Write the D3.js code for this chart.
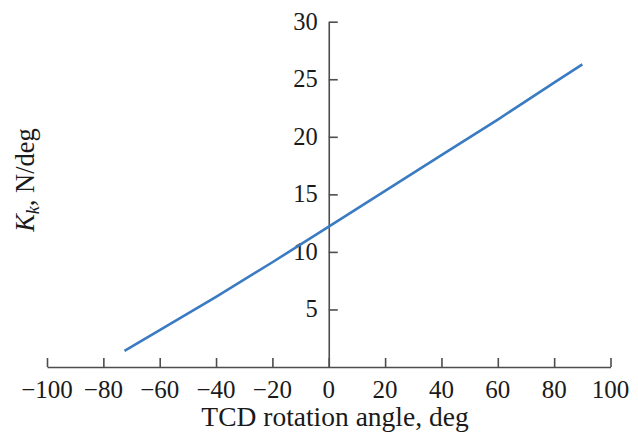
<!DOCTYPE html>
<html>
<head>
<meta charset="utf-8">
<script src="https://cdn.jsdelivr.net/npm/d3@7"></script>
<style>
  html, body { margin: 0; padding: 0; background: #fff; }
  svg { display: block; }
  text { font-family: "Liberation Serif", "Times New Roman", serif; fill: #1a1a1a; }
</style>
</head>
<body>
<svg id="chart" width="638" height="433"></svg>
<script>
// Stiffness K_k versus TCD rotation angle
const angle = [-72.5, -60, -40, -20, 0, 20, 40, 60, 80, 90];
const stiffness = [1.4, 3.2, 6.1, 9.1, 12.2, 15.3, 18.4, 21.5, 24.7, 26.3];
const xTicks = [-100, -80, -60, -40, -20, 0, 20, 40, 60, 80, 100];
const yTicks = [5, 10, 15, 20, 25, 30];

const svg = d3.select("#chart");
const x = d3.scaleLinear().domain([-100, 100]).range([47, 610.5]);
const y = d3.scaleLinear().domain([0, 30]).range([367, 21.7]);

const axisColor = "#4d4d4d";
const fmt = d => (d < 0 ? "\u2212" + Math.abs(d) : String(d));

// Horizontal axis at K = 0, ticks pointing up
const gx = svg.append("g")
  .attr("transform", `translate(0,${y(0)})`)
  .call(d3.axisTop(x).tickValues(xTicks).tickSize(9).tickSizeOuter(0).tickFormat(""));
gx.select(".domain").attr("stroke", axisColor).attr("stroke-width", 1.6);
gx.selectAll(".tick line").attr("stroke", axisColor).attr("stroke-width", 1.6);

svg.append("g").selectAll("text")
  .data(xTicks).join("text")
  .attr("x", d => x(d))
  .attr("y", y(0) + 31)
  .attr("text-anchor", "middle")
  .attr("font-size", 25)
  .text(fmt);

// Vertical axis at angle = 0, ticks pointing right, labels on the left
const gy = svg.append("g")
  .attr("transform", `translate(${x(0)},0)`)
  .call(d3.axisRight(y).tickValues(yTicks).tickSize(9).tickSizeOuter(0).tickFormat(""));
gy.select(".domain").attr("stroke", axisColor).attr("stroke-width", 1.6);
gy.selectAll(".tick line").attr("stroke", axisColor).attr("stroke-width", 1.6);

svg.append("g").selectAll("text")
  .data(yTicks).join("text")
  .attr("x", x(0) - 11)
  .attr("y", d => y(d) + 8)
  .attr("text-anchor", "end")
  .attr("font-size", 24.5)
  .text(d => d);

// Curve
const line = d3.line().x((d, i) => x(angle[i])).y(d => y(d));
svg.append("path")
  .datum(stiffness)
  .attr("fill", "none")
  .attr("stroke", "#3a7bc2")
  .attr("stroke-width", 2.6)
  .attr("d", line);

// Axis titles
svg.append("text")
  .attr("x", 335)
  .attr("y", 426)
  .attr("text-anchor", "middle")
  .attr("font-size", 27.5)
  .text("TCD rotation angle, deg");

const yt = svg.append("text")
  .attr("transform", "translate(34,180) rotate(-90)")
  .attr("text-anchor", "middle")
  .attr("font-size", 26.5);
yt.append("tspan").attr("font-style", "italic").text("K");
yt.append("tspan").attr("font-style", "italic").attr("font-size", 18).attr("dy", 5).text("k");
yt.append("tspan").attr("dy", -5).text(", N/deg");
</script>
</body>
</html>
